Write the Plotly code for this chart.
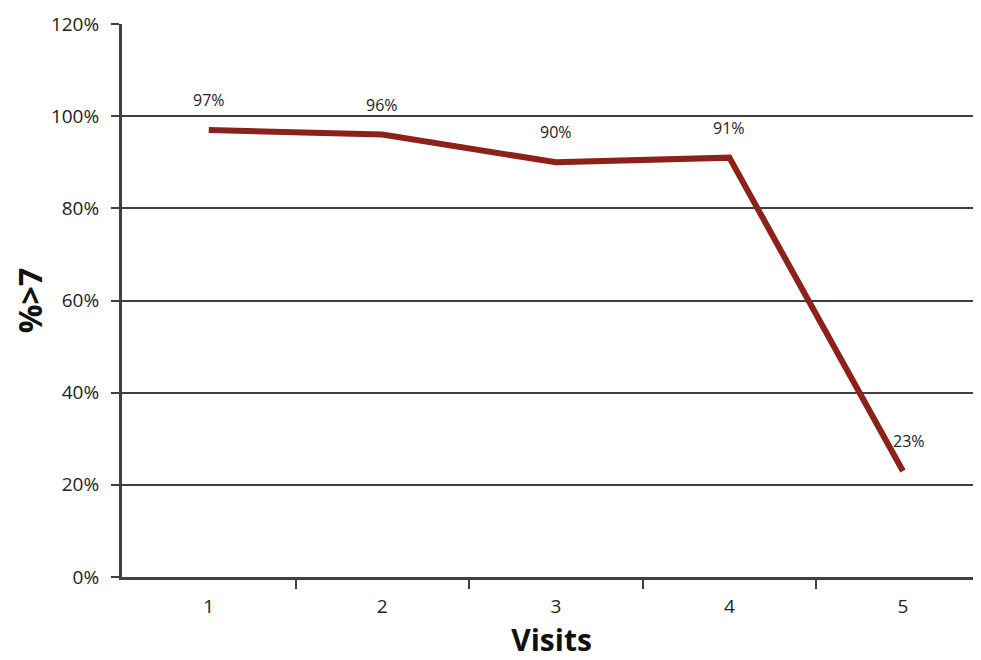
import plotly.graph_objects as go

visits = [1, 2, 3, 4, 5]
pct_over_7 = [97, 96, 90, 91, 23]
labels = ["97%", "96%", "90%", "91%", "23%"]
x_tick_labels = ["1", "2", "3", "4", "5"]

line_color = "#8B2119"
grid_color = "#404040"
font_family = "'Open Sans', Lato, sans-serif"

fig = go.Figure()
fig.add_trace(go.Scatter(
    x=visits, y=pct_over_7, mode="lines",
    line=dict(color=line_color, width=6),
    showlegend=False, hoverinfo="skip",
))

for xv, yv, lab in zip(visits, pct_over_7, labels):
    fig.add_annotation(
        x=xv, y=yv, text=lab, showarrow=False,
        yshift=30, xshift=6 if yv < 50 else 0,
        font=dict(family=font_family, size=16, color="#222"),
    )

fig.update_layout(
    width=973, height=652,
    margin=dict(l=114, r=0, t=16, b=83),
    paper_bgcolor="white", plot_bgcolor="white",
    font=dict(family=font_family, color="#222"),
)
fig.update_xaxes(
    range=[0.5, 5.45],
    tickmode="array", tickvals=visits, ticktext=x_tick_labels,
    ticks="", showgrid=False, zeroline=False, ticklabelstandoff=10,
    showline=True, linecolor=grid_color, linewidth=3,
    tickfont=dict(size=19, family=font_family, color="#222"),
    title=dict(text="<b>Visits</b>", font=dict(size=30, family=font_family, color="#111"), standoff=18),
)
fig.update_xaxes(
    minor=dict(tickmode="array", tickvals=[1.5, 2.5, 3.5, 4.5],
               ticks="outside", ticklen=9, tickwidth=2, tickcolor=grid_color, showgrid=False),
)
fig.update_yaxes(
    range=[0, 120], dtick=20, ticksuffix="%",
    ticks="outside", ticklen=8, tickwidth=2, tickcolor=grid_color,
    showgrid=True, gridcolor=grid_color, gridwidth=2, ticklabelstandoff=8,
    zeroline=False, showline=True, linecolor=grid_color, linewidth=3,
    tickfont=dict(size=19, family=font_family, color="#222"),
    title=dict(text="<b>%>7</b>", font=dict(size=32, family=font_family, color="#111"), standoff=16),
)

fig.write_html("out.html")
